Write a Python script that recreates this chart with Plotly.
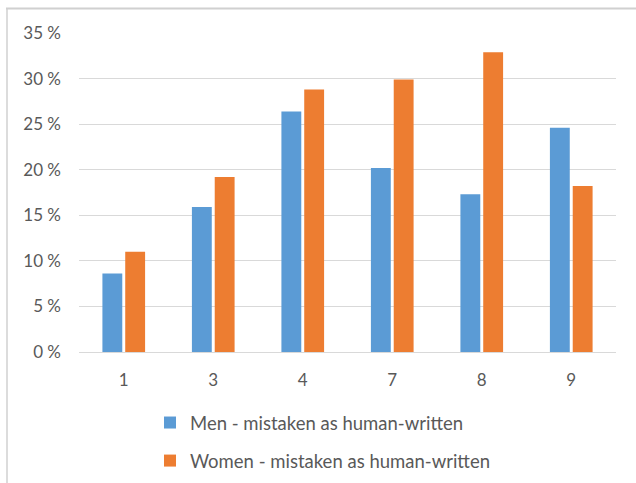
import plotly.graph_objects as go

categories = ["1", "3", "4", "7", "8", "9"]
men = [8.6, 15.9, 26.4, 20.2, 17.3, 24.6]
women = [11.0, 19.2, 28.8, 29.9, 32.9, 18.2]
y_ticks = [0, 5, 10, 15, 20, 25, 30, 35]
y_tick_labels = [f"{v} %" for v in y_ticks]
series_names = ["Men - mistaken as human-written", "Women - mistaken as human-written"]

W, H = 636, 483
L, R, T, B = 79, 20, 33, 131
pw, ph = W - L - R, H - T - B

def px_x(px):
    return (px - L) / pw

def px_y(py):
    return (H - B - py) / ph

font_family = "Lato, 'Open Sans', sans-serif"
grey = "#595959"

fig = go.Figure()
fig.add_trace(go.Bar(x=categories, y=men, name=series_names[0], marker_color="#5B9BD5",
                     marker_line_width=0, legendgroup="m"))
fig.add_trace(go.Bar(x=categories, y=women, name=series_names[1], marker_color="#ED7D31",
                     marker_line_width=0, legendgroup="w"))

fig.update_layout(
    width=W, height=H,
    margin=dict(l=L, r=R, t=T, b=B, autoexpand=False),
    paper_bgcolor="white", plot_bgcolor="white",
    barmode="group", bargap=0.49, bargroupgap=0.13,
    font=dict(family=font_family, color=grey, size=17),
    legend=dict(x=px_x(150), y=px_y(404), xanchor="left", yanchor="top",
                orientation="v", tracegroupgap=11, font=dict(size=18.5, color=grey),
                bgcolor="rgba(0,0,0,0)"),
    showlegend=True,
)
fig.update_xaxes(type="category", showgrid=False, showline=False, ticks="",
                 tickfont=dict(size=17, color=grey), ticklabelstandoff=16)
fig.update_yaxes(range=[0, 35], tickvals=y_ticks, ticktext=y_tick_labels,
                 showgrid=True, gridcolor="#d9d9d9", gridwidth=1,
                 zeroline=True, zerolinecolor="#d9d9d9", zerolinewidth=1,
                 showline=False, ticks="", tickfont=dict(size=17, color=grey),
                 ticklabelstandoff=17)

# chart frame (top and left edges visible)
fig.add_shape(type="line", xref="paper", yref="paper",
              x0=px_x(6), x1=px_x(640), y0=px_y(8.5), y1=px_y(8.5),
              line=dict(color="#d0d0d0", width=2))
fig.add_shape(type="line", xref="paper", yref="paper",
              x0=px_x(7), x1=px_x(7), y0=px_y(8.5), y1=px_y(490),
              line=dict(color="#d0d0d0", width=1.5))

fig.write_html("out.html", config={"displayModeBar": False},
               post_script="document.body.style.margin='0';")
